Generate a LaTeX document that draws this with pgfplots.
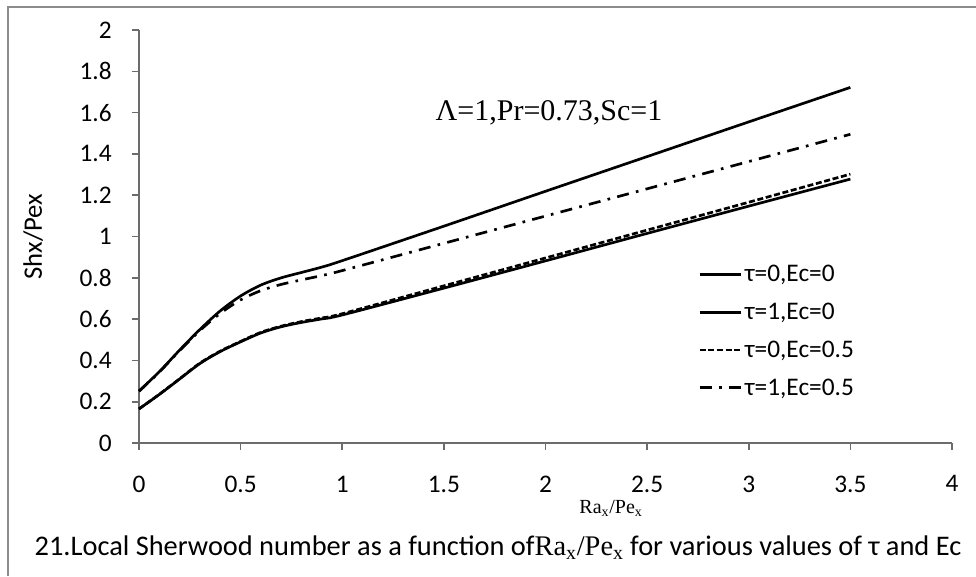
\documentclass[border=0pt]{standalone}
\usepackage{fontspec}
\setmainfont{Carlito}
\newfontfamily\serifnum{Liberation Serif}
\usepackage{pgfplots}
\pgfplotsset{compat=1.18}

\begin{document}
\begin{tikzpicture}[x=0.75pt,y=0.75pt]
\useasboundingbox (0,0) rectangle (976,576);
% outer chart frame (left and top edges visible)
\draw[draw=gray!90, line width=2pt] (8,0) -- (8,569) -- (976,569);

\begin{axis}[
    at={(104.25pt,99.75pt)}, anchor=south west,
    scale only axis,
    width=609.75pt, height=309.75pt,
    xmin=0, xmax=4, ymin=0, ymax=2,
    xtick={0,0.5,...,4}, ytick={0,0.2,...,2},
    axis lines=left,
    axis line style={draw=gray!85!black, line width=1.2pt, -},
    every tick/.style={draw=gray!85!black, line width=1.2pt},
    tick align=outside,
    major tick length=5pt,
    xticklabel style={font=\fontsize{19}{22}\selectfont, yshift=-16pt},
    yticklabel style={font=\fontsize{19}{22}\selectfont, xshift=-12pt},
    /pgf/number format/assume math mode=true,
    yticklabel={\pgfmathprintnumber[fixed,precision=1]{\tick}},
    xticklabel={\pgfmathprintnumber[fixed,precision=1]{\tick}},
    ylabel={Shx/Pex},
    ylabel style={font=\fontsize{20}{24}\selectfont, at={(axis description cs:-0.13,0.5)}, anchor=center},
    clip=false,
    legend style={draw=none, fill=none, at={(axis cs:2.75,0.875)}, anchor=north west,
        font=\fontsize{19}{22}\selectfont, row sep=10.5pt, inner sep=0pt,
        /tikz/every even column/.append style={column sep=8pt}},
    legend cell align=left,
    legend image code/.code={\draw[#1] (0pt,0pt) -- (31pt,0pt);},
]
\addplot[black, line width=2pt, smooth] coordinates {
 (0,0.165) (0.1,0.235) (0.2,0.31) (0.3,0.385) (0.4,0.443) (0.5,0.49)
 (0.6,0.533) (0.7,0.563) (0.8,0.584) (0.9,0.601) (1.0,0.62)
 (1.5,0.75) (2,0.882) (2.5,1.015) (3,1.147) (3.5,1.278)};
\addlegendentry{τ=0,Ec=0}
\addplot[black, line width=2pt, smooth] coordinates {
 (0,0.252) (0.1,0.345) (0.2,0.45) (0.3,0.55) (0.4,0.64) (0.5,0.712)
 (0.6,0.765) (0.7,0.80) (0.8,0.826) (0.9,0.852) (1.0,0.883)
 (1.5,1.05) (2,1.219) (2.5,1.387) (3,1.555) (3.5,1.722)};
\addlegendentry{τ=1,Ec=0}
\addplot[black, line width=2pt, smooth, dash pattern=on 4.5pt off 2pt] coordinates {
 (0,0.165) (0.1,0.236) (0.2,0.311) (0.3,0.387) (0.4,0.445) (0.5,0.492)
 (0.6,0.536) (0.7,0.566) (0.8,0.588) (0.9,0.606) (1.0,0.626)
 (1.5,0.761) (2,0.896) (2.5,1.031) (3,1.166) (3.5,1.302)};
\addlegendentry{τ=0,Ec=0.5}
\addplot[black, line width=2pt, smooth, dash pattern=on 9pt off 5.5pt on 2pt off 5.5pt] coordinates {
 (0,0.25) (0.1,0.344) (0.2,0.447) (0.3,0.545) (0.4,0.628) (0.5,0.693)
 (0.6,0.738) (0.7,0.768) (0.8,0.79) (0.9,0.811) (1.0,0.835)
 (1.5,0.967) (2,1.099) (2.5,1.231) (3,1.363) (3.5,1.495)};
\addlegendentry{τ=1,Ec=0.5}
\end{axis}

\node[font=\serifnum\fontsize{22.5}{26}\selectfont] at (549,463) {Λ=1,Pr=0.73,Sc=1};
\node[font=\serifnum\fontsize{15}{18}\selectfont] at (611,68) {Ra\textsubscript{x}/Pe\textsubscript{x}};
\node[font=\fontsize{21.3}{25}\selectfont] at (498,28) {21.Local Sherwood number as a function of{\serifnum Ra\textsubscript{x}/Pe\textsubscript{x}} for various values of τ and Ec};
\end{tikzpicture}
\end{document}
